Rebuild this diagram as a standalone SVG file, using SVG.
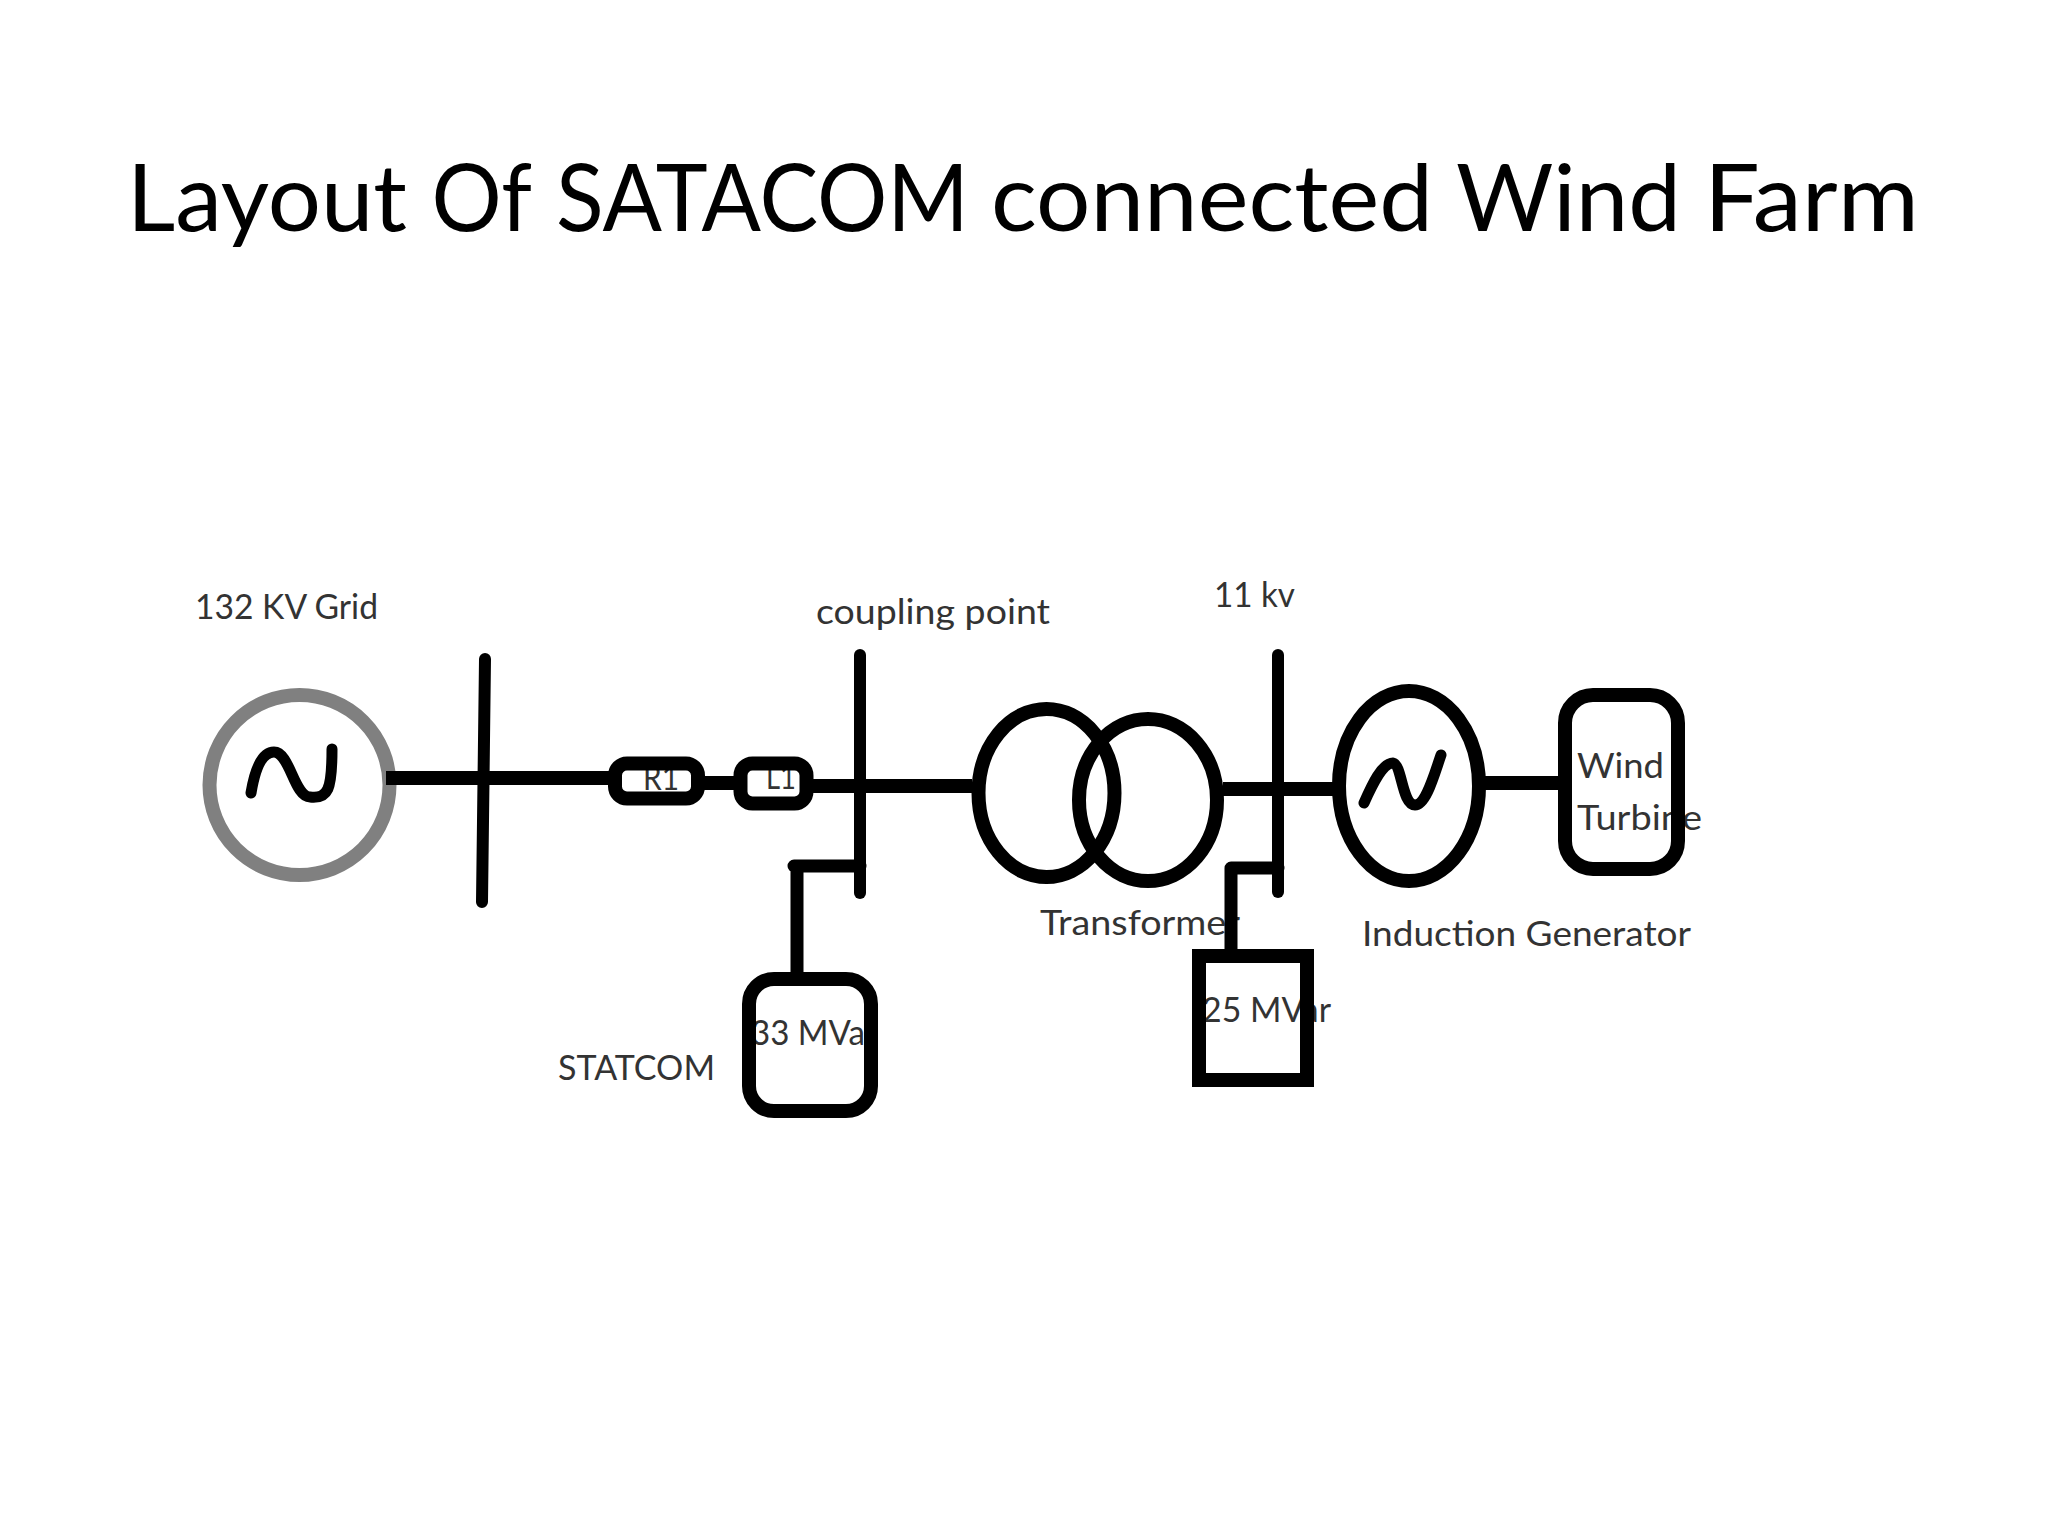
<svg xmlns="http://www.w3.org/2000/svg" width="2048" height="1536" viewBox="0 0 2048 1536">
<style>
text{font-family:"Lato","Open Sans","Liberation Sans",sans-serif}
.t{font-size:34px;fill:#333}
.s{fill:none;stroke:#000;stroke-width:14;stroke-linejoin:round;stroke-linecap:round}
.c{fill:none;stroke:#000;stroke-width:14;stroke-linecap:butt;stroke-linejoin:round}
.b{fill:none;stroke:#000;stroke-width:12;stroke-linecap:round}
</style>
<rect width="2048" height="1536" fill="#fff"/>
<text id="title" y="231" font-size="94" fill="#000"><tspan x="127" textLength="280" lengthAdjust="spacingAndGlyphs">Layout</tspan> <tspan x="431.5" textLength="99" lengthAdjust="spacingAndGlyphs">Of</tspan> <tspan x="556" textLength="413" lengthAdjust="spacingAndGlyphs">SATACOM</tspan> <tspan x="991" textLength="442" lengthAdjust="spacingAndGlyphs">connected</tspan> <tspan x="1456" textLength="225" lengthAdjust="spacingAndGlyphs">Wind</tspan> <tspan x="1704" textLength="215" lengthAdjust="spacingAndGlyphs">Farm</tspan></text>
<g id="grid">
<text class="t" x="195" y="619" textLength="183" lengthAdjust="spacingAndGlyphs">132 KV Grid</text>
<circle cx="299.5" cy="785" r="90" fill="none" stroke="#808080" stroke-width="14"/>
<path class="s" style="stroke-width:11" d="M251 793C254 775 260 752 274 752C290 752 294 797 310 797C328 799 332 790 332 749"/>
</g>
<g id="bus1"><path class="b" d="M485 659L482 902"/></g>
<g id="r1">
<text class="t" x="643" y="790" textLength="36" lengthAdjust="spacingAndGlyphs">R1</text>
<rect class="s" x="615" y="763.5" width="83" height="35" rx="12"/>
</g>
<g id="l1">
<text class="t" x="766" y="789" textLength="30" lengthAdjust="spacingAndGlyphs">L1</text>
<rect class="s" x="740.5" y="763.5" width="66" height="40" rx="12"/>
</g>
<g id="coupling">
<text class="t" x="816" y="624" textLength="234" lengthAdjust="spacingAndGlyphs">coupling point</text>
<path class="b" d="M860 655L860 893"/>
</g>
<g id="statcom">
<text class="t" x="558" y="1080" textLength="157" lengthAdjust="spacingAndGlyphs">STATCOM</text>
<text class="t" x="751" y="1045" textLength="114" lengthAdjust="spacingAndGlyphs">33 MVa</text>
<rect class="s" x="749" y="979" width="122" height="132" rx="25"/>
</g>
<g id="transformer">
<text class="t" x="1040" y="935" textLength="200" lengthAdjust="spacingAndGlyphs">Transformer</text>
<ellipse class="s" cx="1046.5" cy="793" rx="68" ry="84"/>
<ellipse class="s" cx="1148" cy="800" rx="69" ry="81"/>
</g>
<g id="bus11kv">
<text class="t" x="1214" y="607" textLength="81" lengthAdjust="spacingAndGlyphs">11 kv</text>
<path class="b" d="M1278 655L1278 892"/>
</g>
<g id="mvar">
<text class="t" x="1202" y="1022" textLength="129" lengthAdjust="spacingAndGlyphs">25 MVar</text>
<rect class="s" style="stroke-linejoin:miter" x="1199" y="956" width="108" height="124"/>
</g>
<g id="generator">
<text class="t" x="1362" y="946" textLength="329" lengthAdjust="spacingAndGlyphs">Induction Generator</text>
<ellipse class="s" cx="1409" cy="786" rx="70" ry="95"/>
<path class="s" style="stroke-width:11" d="M1364 803C1372 785 1382 763 1393 763C1402 765 1402 805 1415 805C1426 805 1434 775 1441 755"/>
</g>
<g id="turbine">
<text class="t" x="1577" y="778" textLength="87" lengthAdjust="spacingAndGlyphs">Wind</text>
<text class="t" x="1577" y="830" textLength="125" lengthAdjust="spacingAndGlyphs">Turbine</text>
<rect class="s" x="1565" y="695" width="113" height="174" rx="28"/>
</g>
<g id="connectors">
<path class="c" d="M386 778H609"/>
<path class="c" d="M703 783H735"/>
<path class="c" d="M812 786H972"/>
<path class="c" d="M1223 789H1337"/>
<path class="c" d="M1485 783H1559"/>
<path class="s" style="stroke-width:13" d="M860 866H794L797 866V974"/>
<path class="s" style="stroke-width:13" d="M1278 868H1231V950"/>
</g>
</svg>
